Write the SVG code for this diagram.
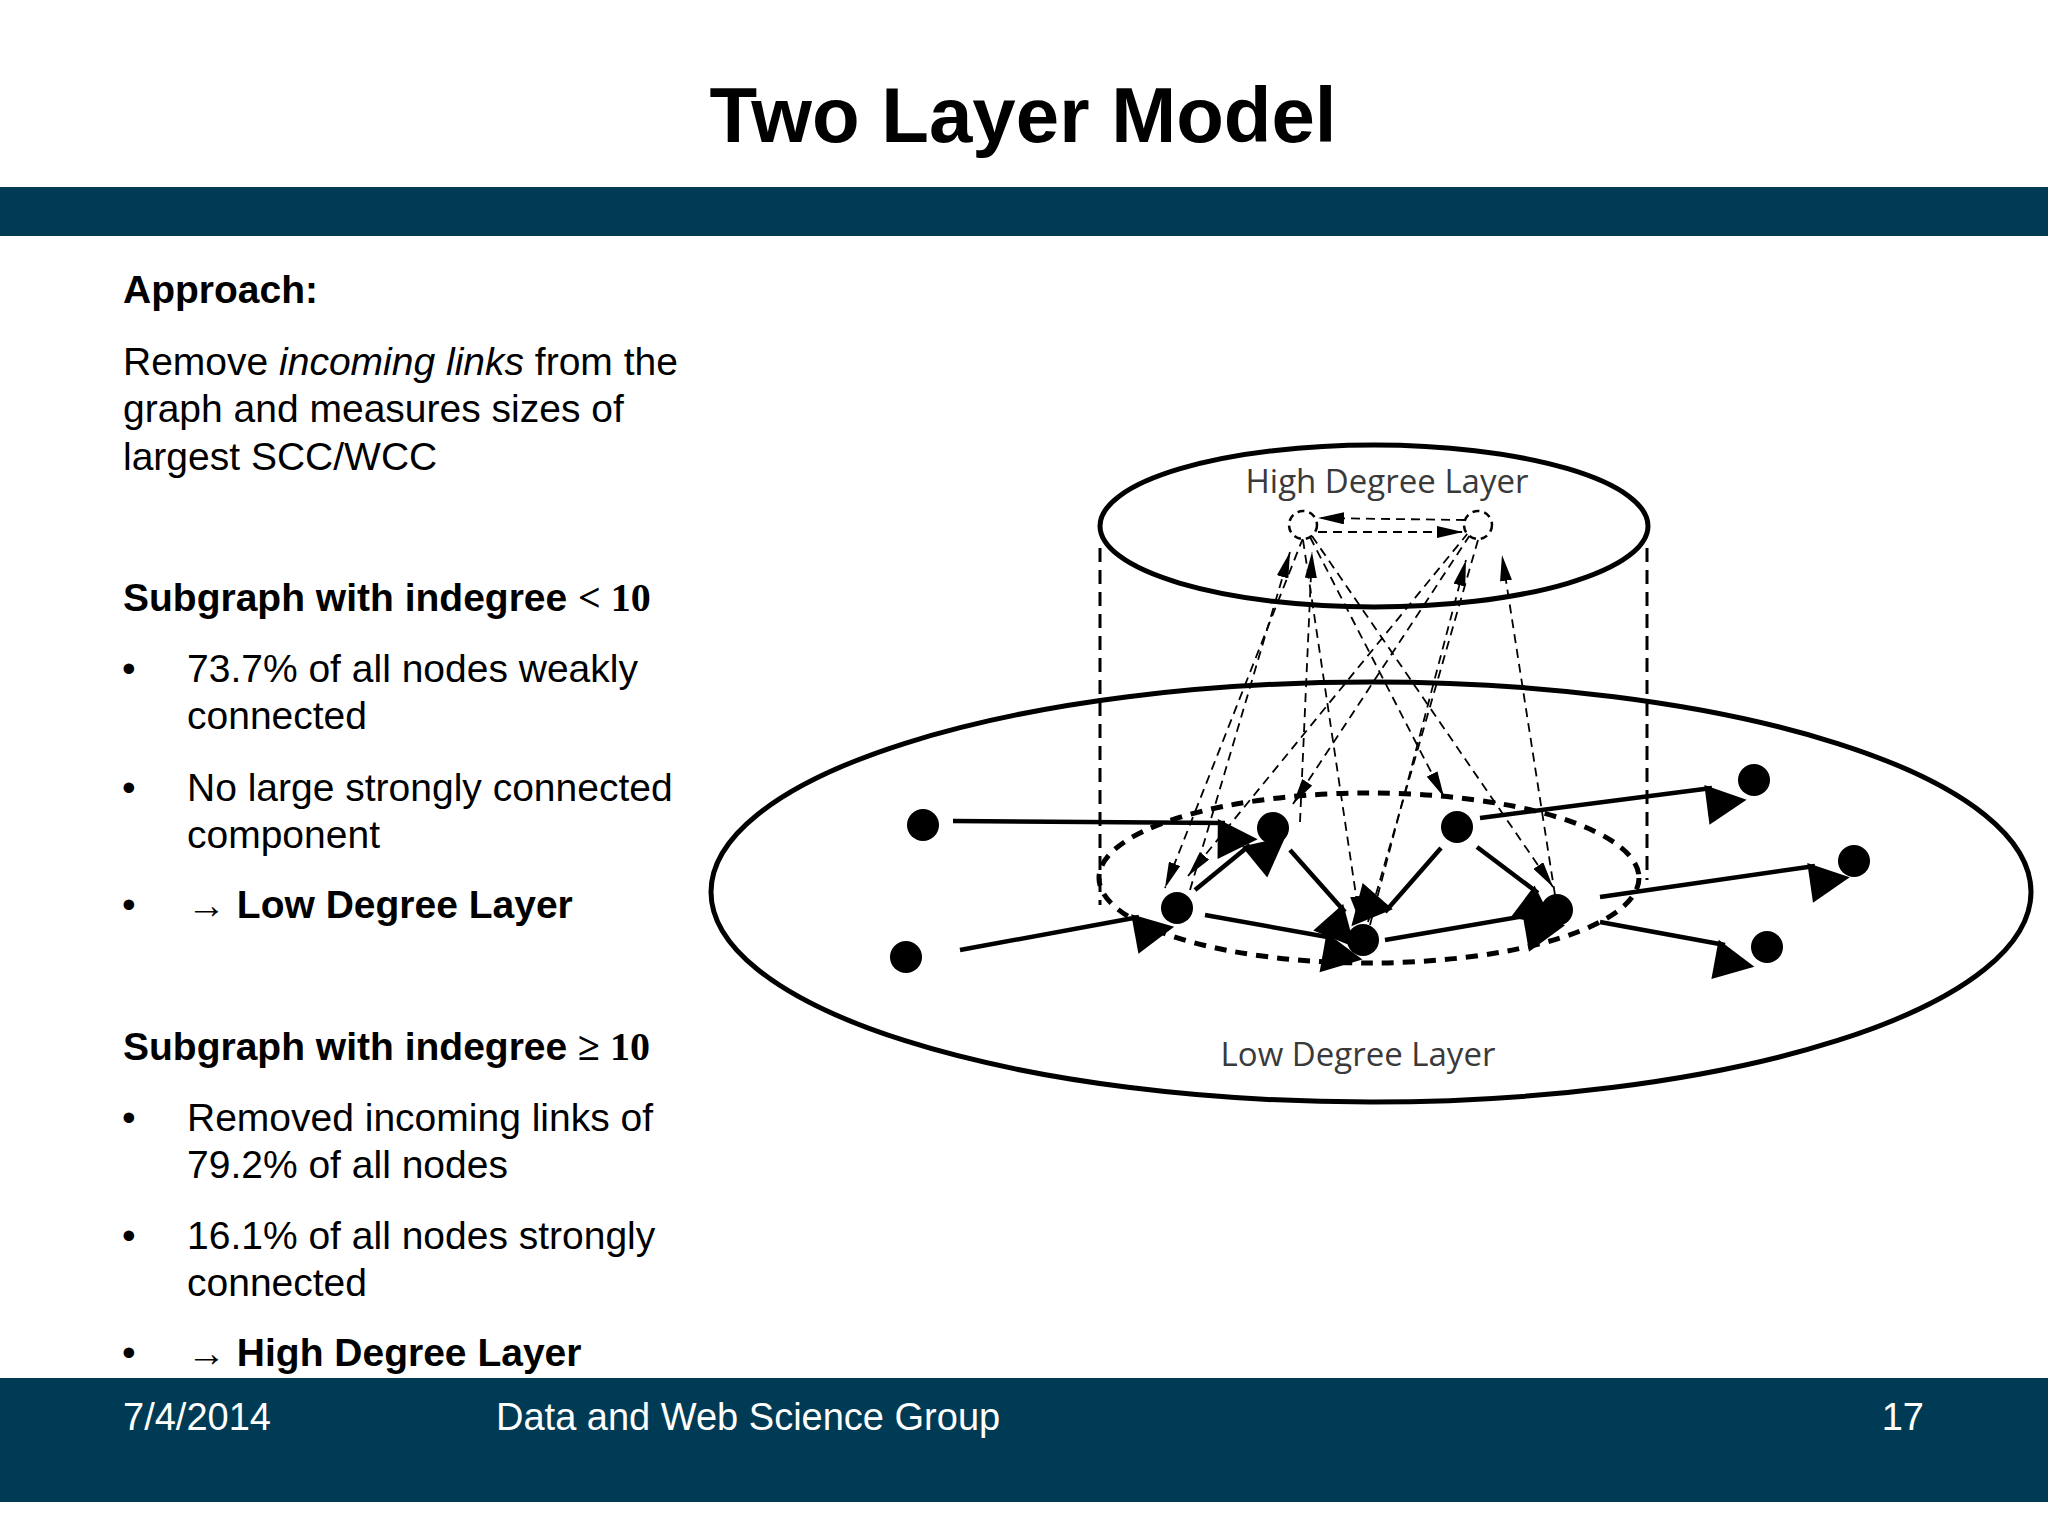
<svg xmlns="http://www.w3.org/2000/svg" width="2048" height="1536" viewBox="0 0 2048 1536">
<defs>
<style>
.t{font-family:"Liberation Sans",Arial,sans-serif;fill:#000}
.b{font-weight:bold}
.m{font-family:"Liberation Serif","DejaVu Serif",serif;font-weight:bold}
.lbl{font-family:"Open Sans","Noto Sans",sans-serif;font-size:33px;fill:#3a3a3a}
.sa{stroke:#000;stroke-width:4.5;fill:none;marker-end:url(#big)}
.da{stroke:#000;stroke-width:1.8;fill:none;stroke-dasharray:9 6;marker-end:url(#small)}
.nd{fill:#000}
</style>
<marker id="big" viewBox="0 0 10 10" refX="9" refY="5" markerWidth="10" markerHeight="8" markerUnits="userSpaceOnUse" orient="auto" style="overflow:visible">
<path d="M0,0 L10,5 L0,10 z" transform="scale(5)" fill="#000"/>
</marker>
<marker id="small" viewBox="0 0 10 10" refX="10" refY="5" markerWidth="26" markerHeight="12" markerUnits="userSpaceOnUse" orient="auto" preserveAspectRatio="none">
<path d="M0,0 L10,5 L0,10 z" fill="#000"/>
</marker>
</defs>
<rect width="2048" height="1536" fill="#fff"/>
<text class="t b" x="1023" y="142" font-size="78" text-anchor="middle">Two Layer Model</text>
<rect x="0" y="187" width="2048" height="49" fill="#003B55"/>
<rect x="0" y="1378" width="2048" height="124" fill="#003B55"/>
<g class="t" font-size="38" fill="#fff">
<text x="123" y="1430" fill="#fff" class="t" style="fill:#fff">7/4/2014</text>
<text x="496" y="1430" style="fill:#fff" class="t">Data and Web Science Group</text>
<text x="1924" y="1430" text-anchor="end" style="fill:#fff" class="t">17</text>
</g>
<g id="text" class="t" font-size="39">
<text x="123" y="303" class="t b">Approach:</text>
<text x="123" y="375">Remove <tspan font-style="italic">incoming links</tspan> from the</text>
<text x="123" y="422">graph and measures sizes of</text>
<text x="123" y="470">largest SCC/WCC</text>
<text x="123" y="611" class="t b">Subgraph with indegree <tspan class="m" font-size="40">&lt; 10</tspan></text>
<text x="122" y="682">•</text><text x="187" y="682">73.7% of all nodes weakly</text>
<text x="187" y="729">connected</text>
<text x="122" y="801">•</text><text x="187" y="801">No large strongly connected</text>
<text x="187" y="848">component</text>
<text x="122" y="918">•</text><text x="187" y="918" class="t b">→ Low Degree Layer</text>
<text x="123" y="1060" class="t b">Subgraph with indegree <tspan class="m" font-size="40">≥ 10</tspan></text>
<text x="122" y="1131">•</text><text x="187" y="1131">Removed incoming links of</text>
<text x="187" y="1178">79.2% of all nodes</text>
<text x="122" y="1249">•</text><text x="187" y="1249">16.1% of all nodes strongly</text>
<text x="187" y="1296">connected</text>
<text x="122" y="1366">•</text><text x="187" y="1366" class="t b">→ High Degree Layer</text>
</g>
<g id="layers" fill="none" stroke="#000">
<ellipse cx="1371" cy="892" rx="660" ry="210" stroke-width="5"/>
<ellipse cx="1374" cy="526" rx="274" ry="81" stroke-width="5"/>
<line x1="1100" y1="548" x2="1100" y2="905" stroke-width="3" stroke-dasharray="14 8"/>
<line x1="1647" y1="548" x2="1647" y2="880" stroke-width="3" stroke-dasharray="14 8"/>
<ellipse cx="1369" cy="878" rx="270" ry="85" stroke-width="5" stroke-dasharray="12 9"/>
</g>
<text class="lbl" x="1387" y="493" text-anchor="middle">High Degree Layer</text>
<text class="lbl" x="1358" y="1066" text-anchor="middle">Low Degree Layer</text>
<g id="connectors">
<path class="sa" d="M953,821 L1225,823"/>
<path class="sa" d="M960,950 L1139,917"/>
<path class="sa" d="M1195,890 L1250,845"/>
<path class="sa" d="M1290,850 L1345,912"/>
<path class="sa" d="M1441,848 L1385,912"/>
<path class="sa" d="M1477,847 L1538,893"/>
<path class="sa" d="M1205,915 L1333,938"/>
<path class="sa" d="M1385,940 L1530,915"/>
<path class="sa" d="M1480,818 L1712,788"/>
<path class="sa" d="M1600,897 L1815,866"/>
<path class="sa" d="M1600,922 L1725,945"/>
<path class="da" d="M1303,538 L1165,888"/>
<path class="da" d="M1468,533 L1188,876"/>
<path class="da" d="M1470,535 L1293,804"/>
<path class="da" d="M1310,537 L1444,797"/>
<path class="da" d="M1312,536 L1553,887"/>
<path class="da" d="M1303,540 L1360,922"/>
<path class="da" d="M1478,540 L1368,922"/>
<path class="da" d="M1190,890 L1290,552"/>
<path class="da" d="M1300,822 L1312,552"/>
<path class="da" d="M1370,925 L1466,560"/>
<path class="da" d="M1555,895 L1502,555"/>
<path class="da" d="M1465,520 L1318,518"/>
<path class="da" d="M1318,532 L1463,532"/>
</g>
<g id="nodes">
<circle class="nd" cx="923" cy="825" r="16"/>
<circle class="nd" cx="906" cy="957" r="16"/>
<circle class="nd" cx="1273" cy="828" r="16"/>
<circle class="nd" cx="1457" cy="827" r="16"/>
<circle class="nd" cx="1177" cy="908" r="16"/>
<circle class="nd" cx="1363" cy="940" r="16"/>
<circle class="nd" cx="1557" cy="910" r="16"/>
<circle class="nd" cx="1754" cy="780" r="16"/>
<circle class="nd" cx="1854" cy="861" r="16"/>
<circle class="nd" cx="1767" cy="947" r="16"/>
<circle cx="1303" cy="525" r="14" fill="#fff" stroke="#000" stroke-width="2.5" stroke-dasharray="7 5"/>
<circle cx="1478" cy="525" r="14" fill="#fff" stroke="#000" stroke-width="2.5" stroke-dasharray="7 5"/>
</g>
</svg>
